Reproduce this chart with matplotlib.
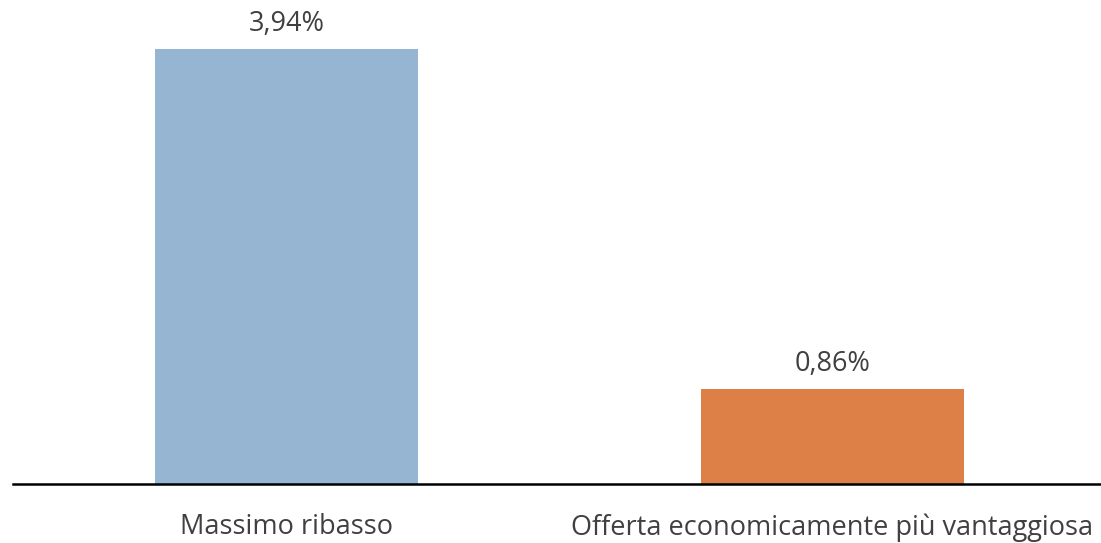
import matplotlib
matplotlib.use('Agg')

import matplotlib.pyplot as plt

categories = ["Massimo ribasso", "Offerta economicamente più vantaggiosa"]
values = [3.94, 0.86]
value_labels = ["3,94%", "0,86%"]
colors = ["#95B5D3", "#DD8047"]

plt.rcParams['font.family'] = ['Open Sans', 'DejaVu Sans']

fig = plt.figure(figsize=(11.01, 5.43), dpi=100)
ax = fig.add_axes([13 / 1101, 1 - 484 / 543, 1 - 13 / 1101, 484 / 543])

x = [0, 1]
ax.bar(x, values, width=0.482, color=colors)

for xi, v, lab in zip(x, values, value_labels):
    ax.annotate(lab, (xi, v), xytext=(0, 8), textcoords="offset points",
                ha="center", va="bottom", fontsize=19.5, color="#404040")

ax.set_xlim(-0.501, 1.492)
ax.set_ylim(0, 4.385)

ax.set_yticks([])
ax.set_xticks(x)
ax.set_xticklabels(categories, fontsize=19.5, color="#404040")
ax.tick_params(axis="x", length=0, pad=21)

for s in ["top", "right", "left"]:
    ax.spines[s].set_visible(False)
ax.spines["bottom"].set_linewidth(1.8)
ax.spines["bottom"].set_color("#000000")

fig.savefig("out.png", dpi=100)
